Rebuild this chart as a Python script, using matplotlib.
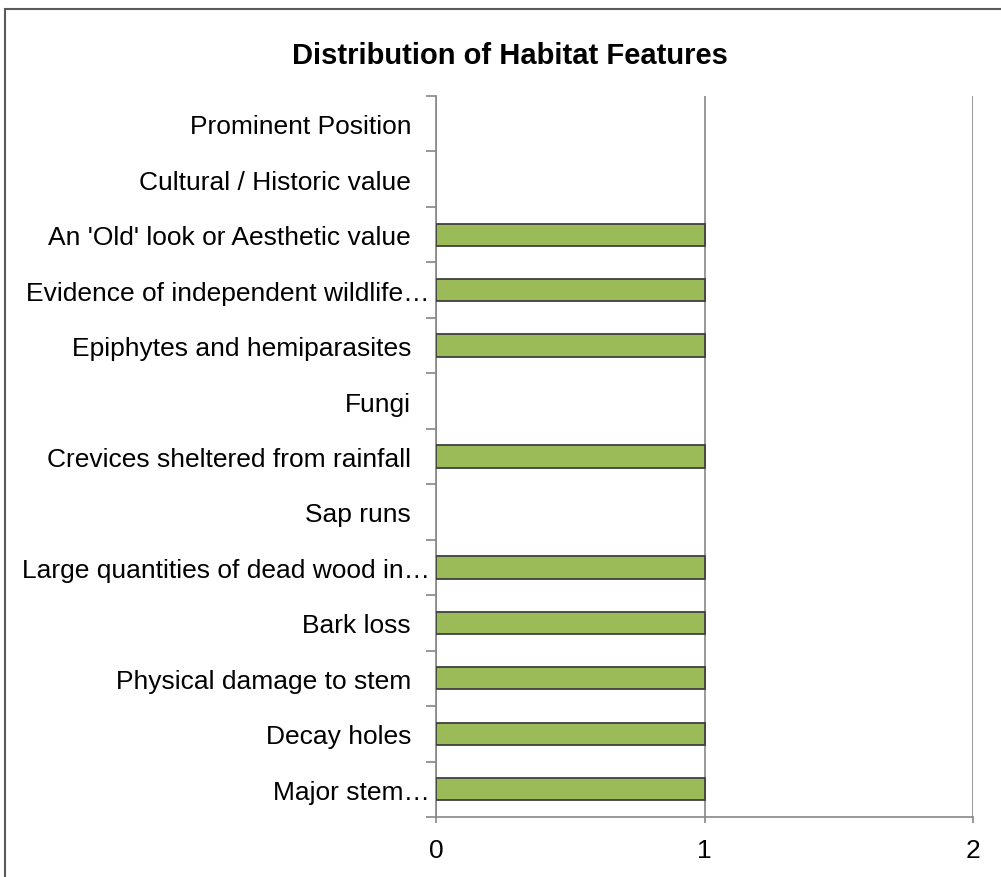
import matplotlib
matplotlib.use("Agg")
import matplotlib.pyplot as plt
from matplotlib.patches import Rectangle
from matplotlib.transforms import ScaledTranslation
import numpy as np

plt.rcParams['font.family'] = ['Liberation Sans', 'DejaVu Sans']

# categories listed bottom to top
categories = [
    "Major stem…",
    "Decay holes",
    "Physical damage to stem",
    "Bark loss",
    "Large quantities of dead wood in…",
    "Sap runs",
    "Crevices sheltered from rainfall",
    "Fungi",
    "Epiphytes and hemiparasites",
    "Evidence of independent wildlife…",
    "An 'Old' look or Aesthetic value",
    "Cultural / Historic value",
    "Prominent Position",
]
values = [1, 1, 1, 1, 1, 0, 1, 0, 1, 1, 1, 0, 0]
x_ticks = [0, 1, 2]
title = "Distribution of Habitat Features"

W, H = 1001, 878
fig = plt.figure(figsize=(W / 100, H / 100), dpi=100)

# outer chart border
fig.patches.append(Rectangle((5 / W, -0.1), 1.2, 1 - 10 / H + 0.1, transform=fig.transFigure,
                             fill=False, edgecolor="#595959", linewidth=1.5))

ax = fig.add_axes([436 / W, 1 - 818 / H, (973 - 436) / W, (818 - 97) / H])

y = np.arange(len(categories))
edges = ["#404040" if v != 0 else "none" for v in values]
ax.barh(y, values, height=0.4, color="#9BBB59", edgecolor=edges, linewidth=1.3, zorder=3)

ax.set_xlim(0, 2)
ax.set_ylim(-0.5, len(categories) - 0.5)
ax.set_xticks(x_ticks)
ax.set_xticklabels([str(t) for t in x_ticks], fontsize=19)
ax.set_yticks(y)
ax.set_yticklabels(categories, fontsize=19)
ax.set_yticks(np.arange(len(categories) + 1) - 0.5, minor=True)

ax.tick_params(axis='y', which='major', length=0, pad=18)
ax.tick_params(axis='y', which='minor', length=7, color="#868686", width=1.2)
ax.tick_params(axis='x', which='major', length=4, color="#868686", width=1.2, pad=11)

# truncated labels run right up to the axis
for lbl in ax.get_yticklabels():
    if lbl.get_text().endswith("…"):
        lbl.set_transform(lbl.get_transform() + ScaledTranslation(0.19, 0, fig.dpi_scale_trans))

ax.grid(axis='x', color="#868686", linewidth=1.2, zorder=0)
for s in ['top', 'right']:
    ax.spines[s].set_visible(False)
for s in ['left', 'bottom']:
    ax.spines[s].set_color("#868686")
    ax.spines[s].set_linewidth(1.2)

fig.text(510 / W, 1 - 56 / H, title, ha='center', va='center', fontsize=21, fontweight='bold')

fig.savefig("out.png", dpi=100)
